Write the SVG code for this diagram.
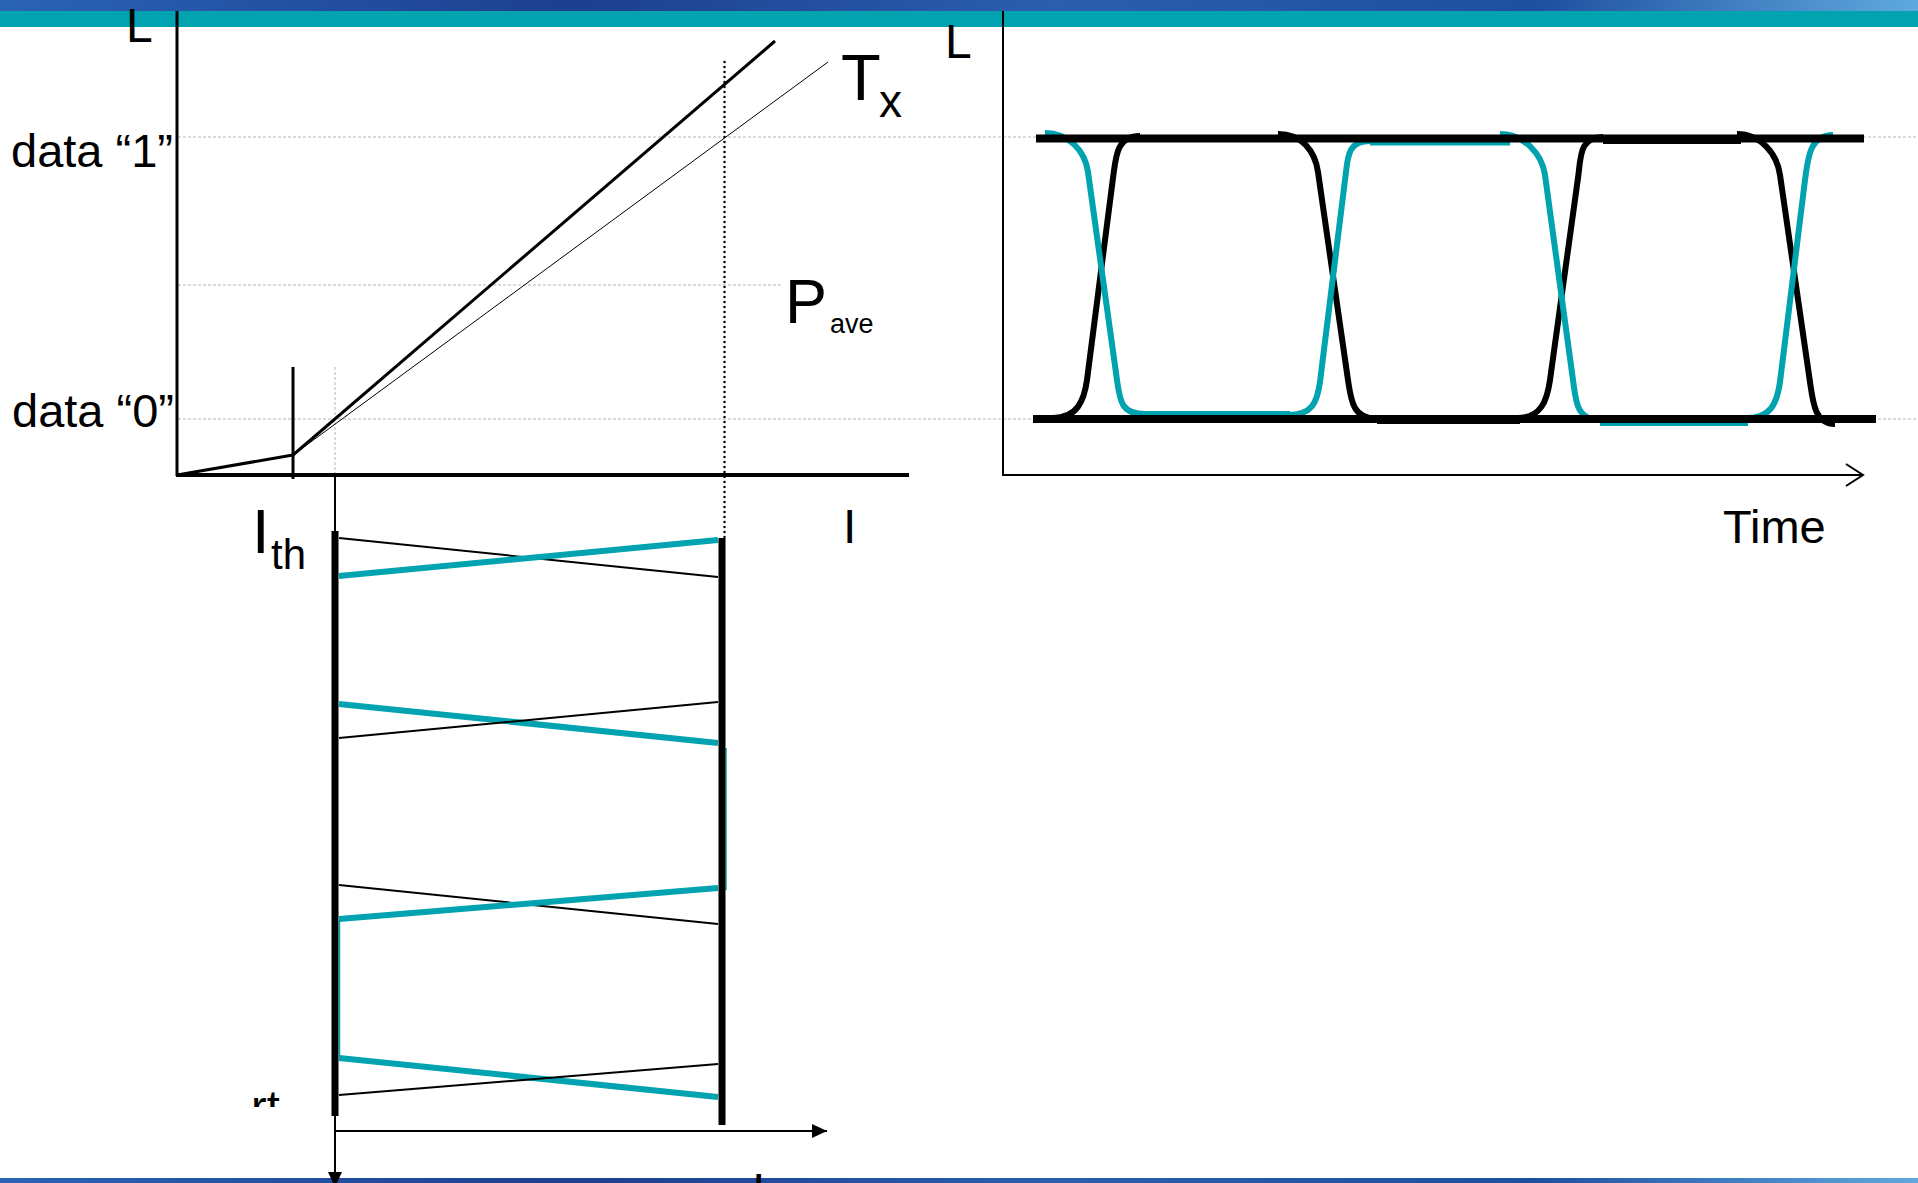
<svg xmlns="http://www.w3.org/2000/svg" width="1918" height="1183" viewBox="0 0 1918 1183">
<style>
text{font-family:"Liberation Sans",Arial,sans-serif;fill:#000}
.ax{stroke:#000;fill:none}
.grid{stroke:#b4b4b4;stroke-width:1;stroke-dasharray:3 2;fill:none}
.thin{stroke:#000;stroke-width:2;fill:none}
.teal{stroke:#00A3AF;stroke-width:6;fill:none}
.eyeB{stroke:#000;stroke-width:6;fill:none}
.eyeT{stroke:#00A3AF;stroke-width:6;fill:none}
</style>
<defs>
<linearGradient id="band" x1="0" y1="0" x2="1" y2="0">
<stop offset="0" stop-color="#2a63b5"/>
<stop offset="0.3" stop-color="#1d3f8f"/>
<stop offset="0.55" stop-color="#2a5fae"/>
<stop offset="0.8" stop-color="#1f4f9f"/>
<stop offset="1" stop-color="#5fa9df"/>
</linearGradient>
<marker id="tri" markerUnits="userSpaceOnUse" markerWidth="15" markerHeight="14" refX="15" refY="7" orient="auto">
<path d="M0,0 L15,7 L0,14 z" fill="#000"/>
</marker>
<marker id="chev" markerUnits="userSpaceOnUse" markerWidth="20" markerHeight="24" refX="18" refY="12" orient="auto">
<path d="M1,1 L18,12 L1,23" fill="none" stroke="#000" stroke-width="2"/>
</marker>
<clipPath id="cutT"><rect x="240" y="1085" width="60" height="22"/></clipPath>
</defs>

<g id="header">
<rect x="0" y="0" width="1918" height="11" fill="url(#band)"/>
<rect x="0" y="11" width="1918" height="16" fill="#00A3AF"/>
<rect x="0" y="1178" width="1918" height="5" fill="url(#band)"/>
</g>

<g id="grid-lines">
<line class="grid" x1="178" y1="137" x2="1918" y2="137"/>
<line class="grid" x1="178" y1="419" x2="1918" y2="419"/>
<line class="grid" x1="178" y1="285" x2="783" y2="285"/>
<line class="grid" x1="335" y1="367" x2="335" y2="475"/>
</g>

<g id="li-chart">
<line class="ax" x1="177" y1="11" x2="177" y2="476" stroke-width="3"/>
<line class="ax" x1="176" y1="475" x2="909" y2="475" stroke-width="4"/>
<line class="ax" x1="177" y1="475" x2="293" y2="455" stroke-width="3"/>
<line class="ax" x1="293" y1="367" x2="293" y2="479" stroke-width="3"/>
<line class="ax" x1="293" y1="455" x2="775" y2="41" stroke-width="3"/>
<line class="ax" x1="293" y1="455" x2="828" y2="62" stroke-width="1"/>
<line class="ax" x1="724.5" y1="62" x2="724.5" y2="538" stroke-width="2.5" stroke-dasharray="0 5" stroke-linecap="round"/>
</g>

<g id="current-chart">
<line class="ax" x1="335" y1="475" x2="335" y2="1187" stroke-width="2" marker-end="url(#tri)"/>
<line class="ax" x1="335" y1="1131" x2="827" y2="1131" stroke-width="2" marker-end="url(#tri)"/>
<line class="thin" x1="339" y1="538" x2="718" y2="577"/>
<line class="teal" x1="339" y1="576" x2="718" y2="540"/>
<line class="teal" x1="339" y1="704" x2="718" y2="743"/>
<line class="thin" x1="339" y1="738" x2="718" y2="702"/>
<line class="thin" x1="339" y1="885" x2="718" y2="924"/>
<line class="teal" x1="339" y1="919" x2="718" y2="888"/>
<line class="teal" x1="339" y1="1058" x2="718" y2="1097"/>
<line class="thin" x1="339" y1="1095" x2="718" y2="1064"/>
<line x1="726" y1="748" x2="726" y2="890" stroke="#00A3AF" stroke-width="1.5"/>
<line x1="339.5" y1="920" x2="339.5" y2="1058" stroke="#00A3AF" stroke-width="1.5"/>
<line class="ax" x1="335" y1="531" x2="335" y2="1116" stroke-width="7"/>
<line class="ax" x1="722" y1="538" x2="722" y2="1125" stroke-width="7"/>
</g>

<g id="eye-diagram">
<line class="ax" x1="1003" y1="11" x2="1003" y2="476" stroke-width="2"/>
<line class="ax" x1="1002" y1="475" x2="1863" y2="475" stroke-width="2" marker-end="url(#chev)"/>
<line class="eyeT" x1="1145" y1="414" x2="1290" y2="414" stroke-width="5"/>
<line class="eyeT" x1="1370" y1="142.5" x2="1510" y2="142.5" stroke-width="5"/>
<line class="eyeT" x1="1600" y1="423" x2="1748" y2="423" stroke-width="5"/>
<line class="eyeB" x1="1377" y1="421" x2="1520" y2="421" stroke-width="5"/>
<line class="eyeB" x1="1603" y1="141" x2="1741" y2="141" stroke-width="5"/>
<path class="eyeB" d="M1053,418 C1077,418 1084,401 1087,380 L1113,178 C1116,157 1116,136 1140,136"/>
<path class="eyeB" d="M1278,134 C1302,134 1315,151 1318,172 L1348,380 C1351,401 1353,419 1377,419"/>
<path class="eyeB" d="M1517,418 C1541,418 1547,401 1550,380 L1578,178 C1581,157 1579,137 1603,137"/>
<path class="eyeB" d="M1737,134 C1761,134 1777,154 1780,175 L1810,382 C1813,403 1815,424 1835,424"/>
<path class="eyeT" d="M1045,133 C1069,133 1085,151 1088,172 L1117,380 C1120,401 1121,414 1145,414"/>
<path class="eyeT" d="M1288,415 C1312,415 1317,403 1320,382 L1345,180 C1348,159 1346,141 1370,141"/>
<path class="eyeT" d="M1500,134 C1524,134 1542,154 1545,175 L1573,380 C1576,401 1576,420 1600,420"/>
<path class="eyeT" d="M1747,418 C1771,418 1777,403 1780,382 L1805,180 C1808,159 1809,135 1833,135"/>
<line class="ax" x1="1036" y1="138.5" x2="1864" y2="138.5" stroke-width="8"/>
<line class="ax" x1="1033" y1="419" x2="1876" y2="419" stroke-width="8"/>
</g>

<g id="labels">
<text x="126" y="42" font-size="48">L</text>
<text x="945" y="58" font-size="48">L</text>
<text x="11" y="167" font-size="47">data “1”</text>
<text x="12" y="427" font-size="47">data “0”</text>
<text x="841" y="100" font-size="65">T</text>
<text x="879" y="117" font-size="46">x</text>
<text x="785" y="323" font-size="63">P</text>
<text x="830" y="333" font-size="27">ave</text>
<text x="843" y="543" font-size="48">I</text>
<text x="252" y="553" font-size="63">I</text>
<text x="271" y="569" font-size="42">th</text>
<text x="1723" y="543" font-size="47">Time</text>
<text x="251" y="1123" font-size="47" clip-path="url(#cutT)">rt</text>
<text x="752" y="1207" font-size="48">I</text>
</g>
</svg>
